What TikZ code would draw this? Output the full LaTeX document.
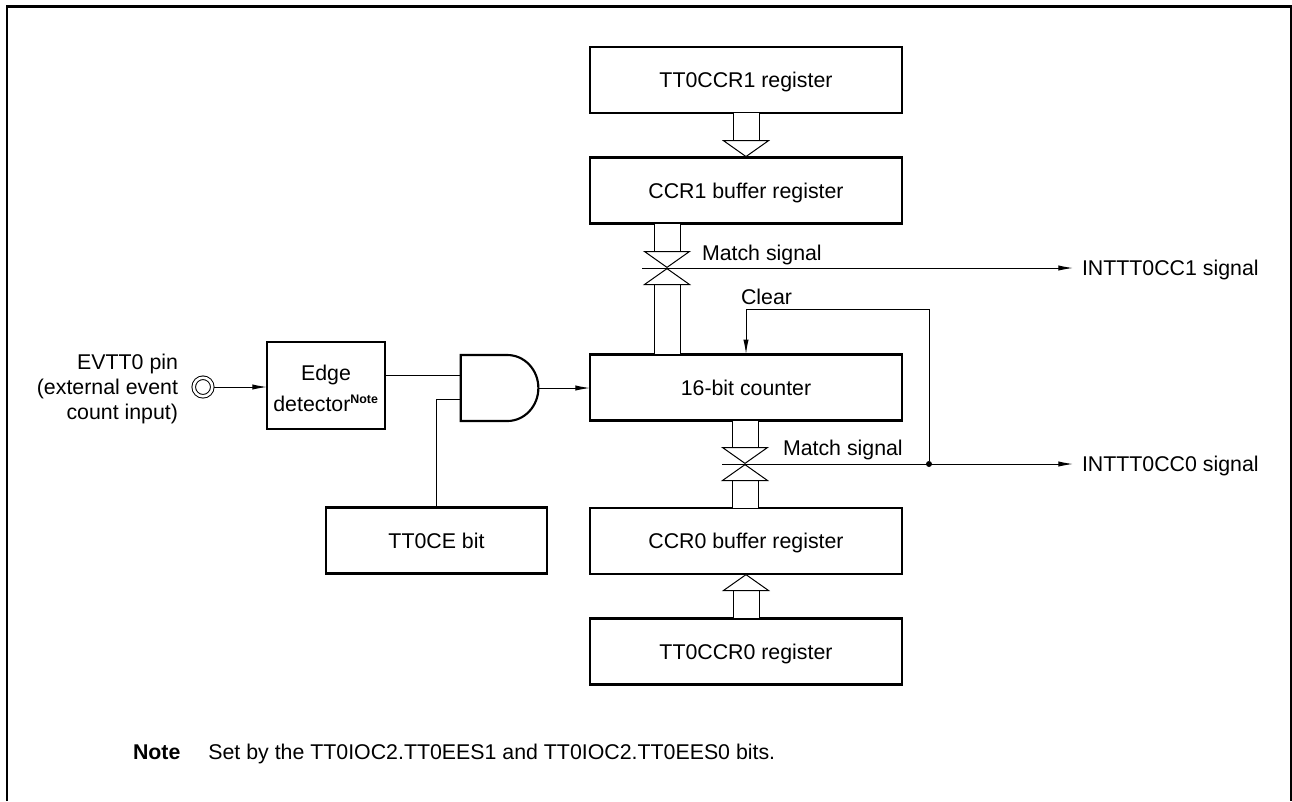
\documentclass[tikz,border=0pt]{standalone}
\usepackage{fontspec}
\setmainfont{Liberation Sans}
\usetikzlibrary{arrows.meta,shapes.gates.logic.US}

\begin{document}
\begin{tikzpicture}[x=0.75pt,y=-0.75pt]
\tikzset{
  blocknode/.style={draw,line width=2.2pt,outer sep=0pt,inner sep=0pt,align=center,text depth=0pt,font=\fontsize{16}{19.5}\selectfont},
  textnode/.style={inner sep=0pt,outer sep=0pt,text depth=0pt,font=\fontsize{16}{18.8}\selectfont},
  signalnode/.style={textnode,anchor=west,outer sep=6.75pt},
  plain/.style={line width=0.75pt},
  directed/.style={-{Latex[length=11pt,width=4pt]},line width=0.75pt},
  busarrow/.style={line width=0.75pt,double,double distance=18.75pt,-{Triangle[length=12.75pt,width=36pt,fill=white,line width=0.75pt]}}
}
\useasboundingbox (0,0) rectangle (1292,801);
\draw[line width=2.2pt] (7,801) -- (7,6.5) -- (1291,6.5) -- (1291,801);
\node[blocknode,minimum width=234pt,minimum height=49.5pt] (n_tt0ccr1) at (746,80) {TT0CCR1 register};
\node[blocknode,minimum width=234pt,minimum height=50pt] (n_ccr1buf) at (746,190.5) {CCR1 buffer register};
\node[blocknode,minimum width=234pt,minimum height=50pt] (n_counter) at (746,387.5) {16-bit counter};
\node[blocknode,minimum width=234pt,minimum height=49.5pt] (n_ccr0buf) at (746,541) {CCR0 buffer register};
\node[blocknode,minimum width=234pt,minimum height=50pt] (n_tt0ccr0) at (746,651.5) {TT0CCR0 register};
\node[blocknode,minimum width=165.75pt,minimum height=50pt] (n_tt0ce) at (436.5,540.5) {TT0CE bit};
\node[blocknode,minimum width=88.5pt,minimum height=65.25pt] (n_edge) at (326,385.5) {\rule{0pt}{16pt}Edge\\[3.6pt]detector\textsuperscript{\fontsize{9.3}{10}\selectfont\bfseries Note}};
\node[and gate US,draw,line width=1.6pt,logic gate inputs=nn,logic gate input sep=16.5pt,minimum width=50pt,minimum height=49.5pt,outer sep=0pt,inner sep=0pt,transform shape,xscale=0.94] (n_and) at (497,388) {};
\node[circle,draw,plain,double,double distance=1.9pt,minimum size=13.9pt,inner sep=0pt,outer sep=1.35pt] (n_pin) at (203,387) {};
\node[textnode,anchor=east,align=right] (n_pinlabel) at (178,387) {EVTT0 pin\\(external event\\count input)};
\node[signalnode] (n_int1) at (1073,267.5) {INTTT0CC1 signal};
\node[signalnode] (n_int0) at (1073,463.5) {INTTT0CC0 signal};
\node[textnode,anchor=west] (n_match1) at (702,253) {Match signal};
\node[textnode,anchor=west] (n_match0) at (783,448) {Match signal};
\node[textnode,anchor=west] (n_clear) at (741,297) {Clear};
\node[textnode,anchor=west] (n_note) at (133,752) {\textbf{Note}\hspace{21pt}Set by the TT0IOC2.TT0EES1 and TT0IOC2.TT0EES0 bits.};
\node[circle,fill=black,inner sep=0pt,minimum size=4.5pt] (n_dot) at (929,464) {};
\coordinate (n_cross1) at (667,268);
\coordinate (n_cross0) at (745,464);
\coordinate (n_left1) at (642,268);
\coordinate (n_left0) at (722,464);
\coordinate (n_clr) at (746,309);
\coordinate (n_gatein) at ([yshift=1.5pt]n_and.input 1);
\draw[busarrow] (n_tt0ccr1.south) -- (n_ccr1buf.north);
\draw[busarrow] (n_tt0ccr0.north) -- (n_ccr0buf.south);
\draw[busarrow] (n_ccr1buf.south -| n_cross1) -- (n_cross1);
\draw[busarrow] (n_counter.north -| n_cross1) -- (n_cross1);
\draw[busarrow] (n_counter.south -| n_cross0) -- (n_cross0);
\draw[busarrow] (n_ccr0buf.north -| n_cross0) -- (n_cross0);
\draw[directed] (n_left1) -- (n_int1.west |- n_left1);
\draw[directed] (n_left0) -- (n_int0.west |- n_left0);
\draw[directed] (n_dot) |- (n_clr) -- (n_counter.north);
\draw[directed] (n_pin) -- (n_edge.west |- n_pin);
\draw[directed] (n_and.output) -- (n_counter.west |- n_and.output);
\draw[plain] (n_edge.east |- n_gatein) -- (n_gatein);
\draw[plain] (n_tt0ce.north) |- (n_and.input 2);
\end{tikzpicture}
\end{document}
